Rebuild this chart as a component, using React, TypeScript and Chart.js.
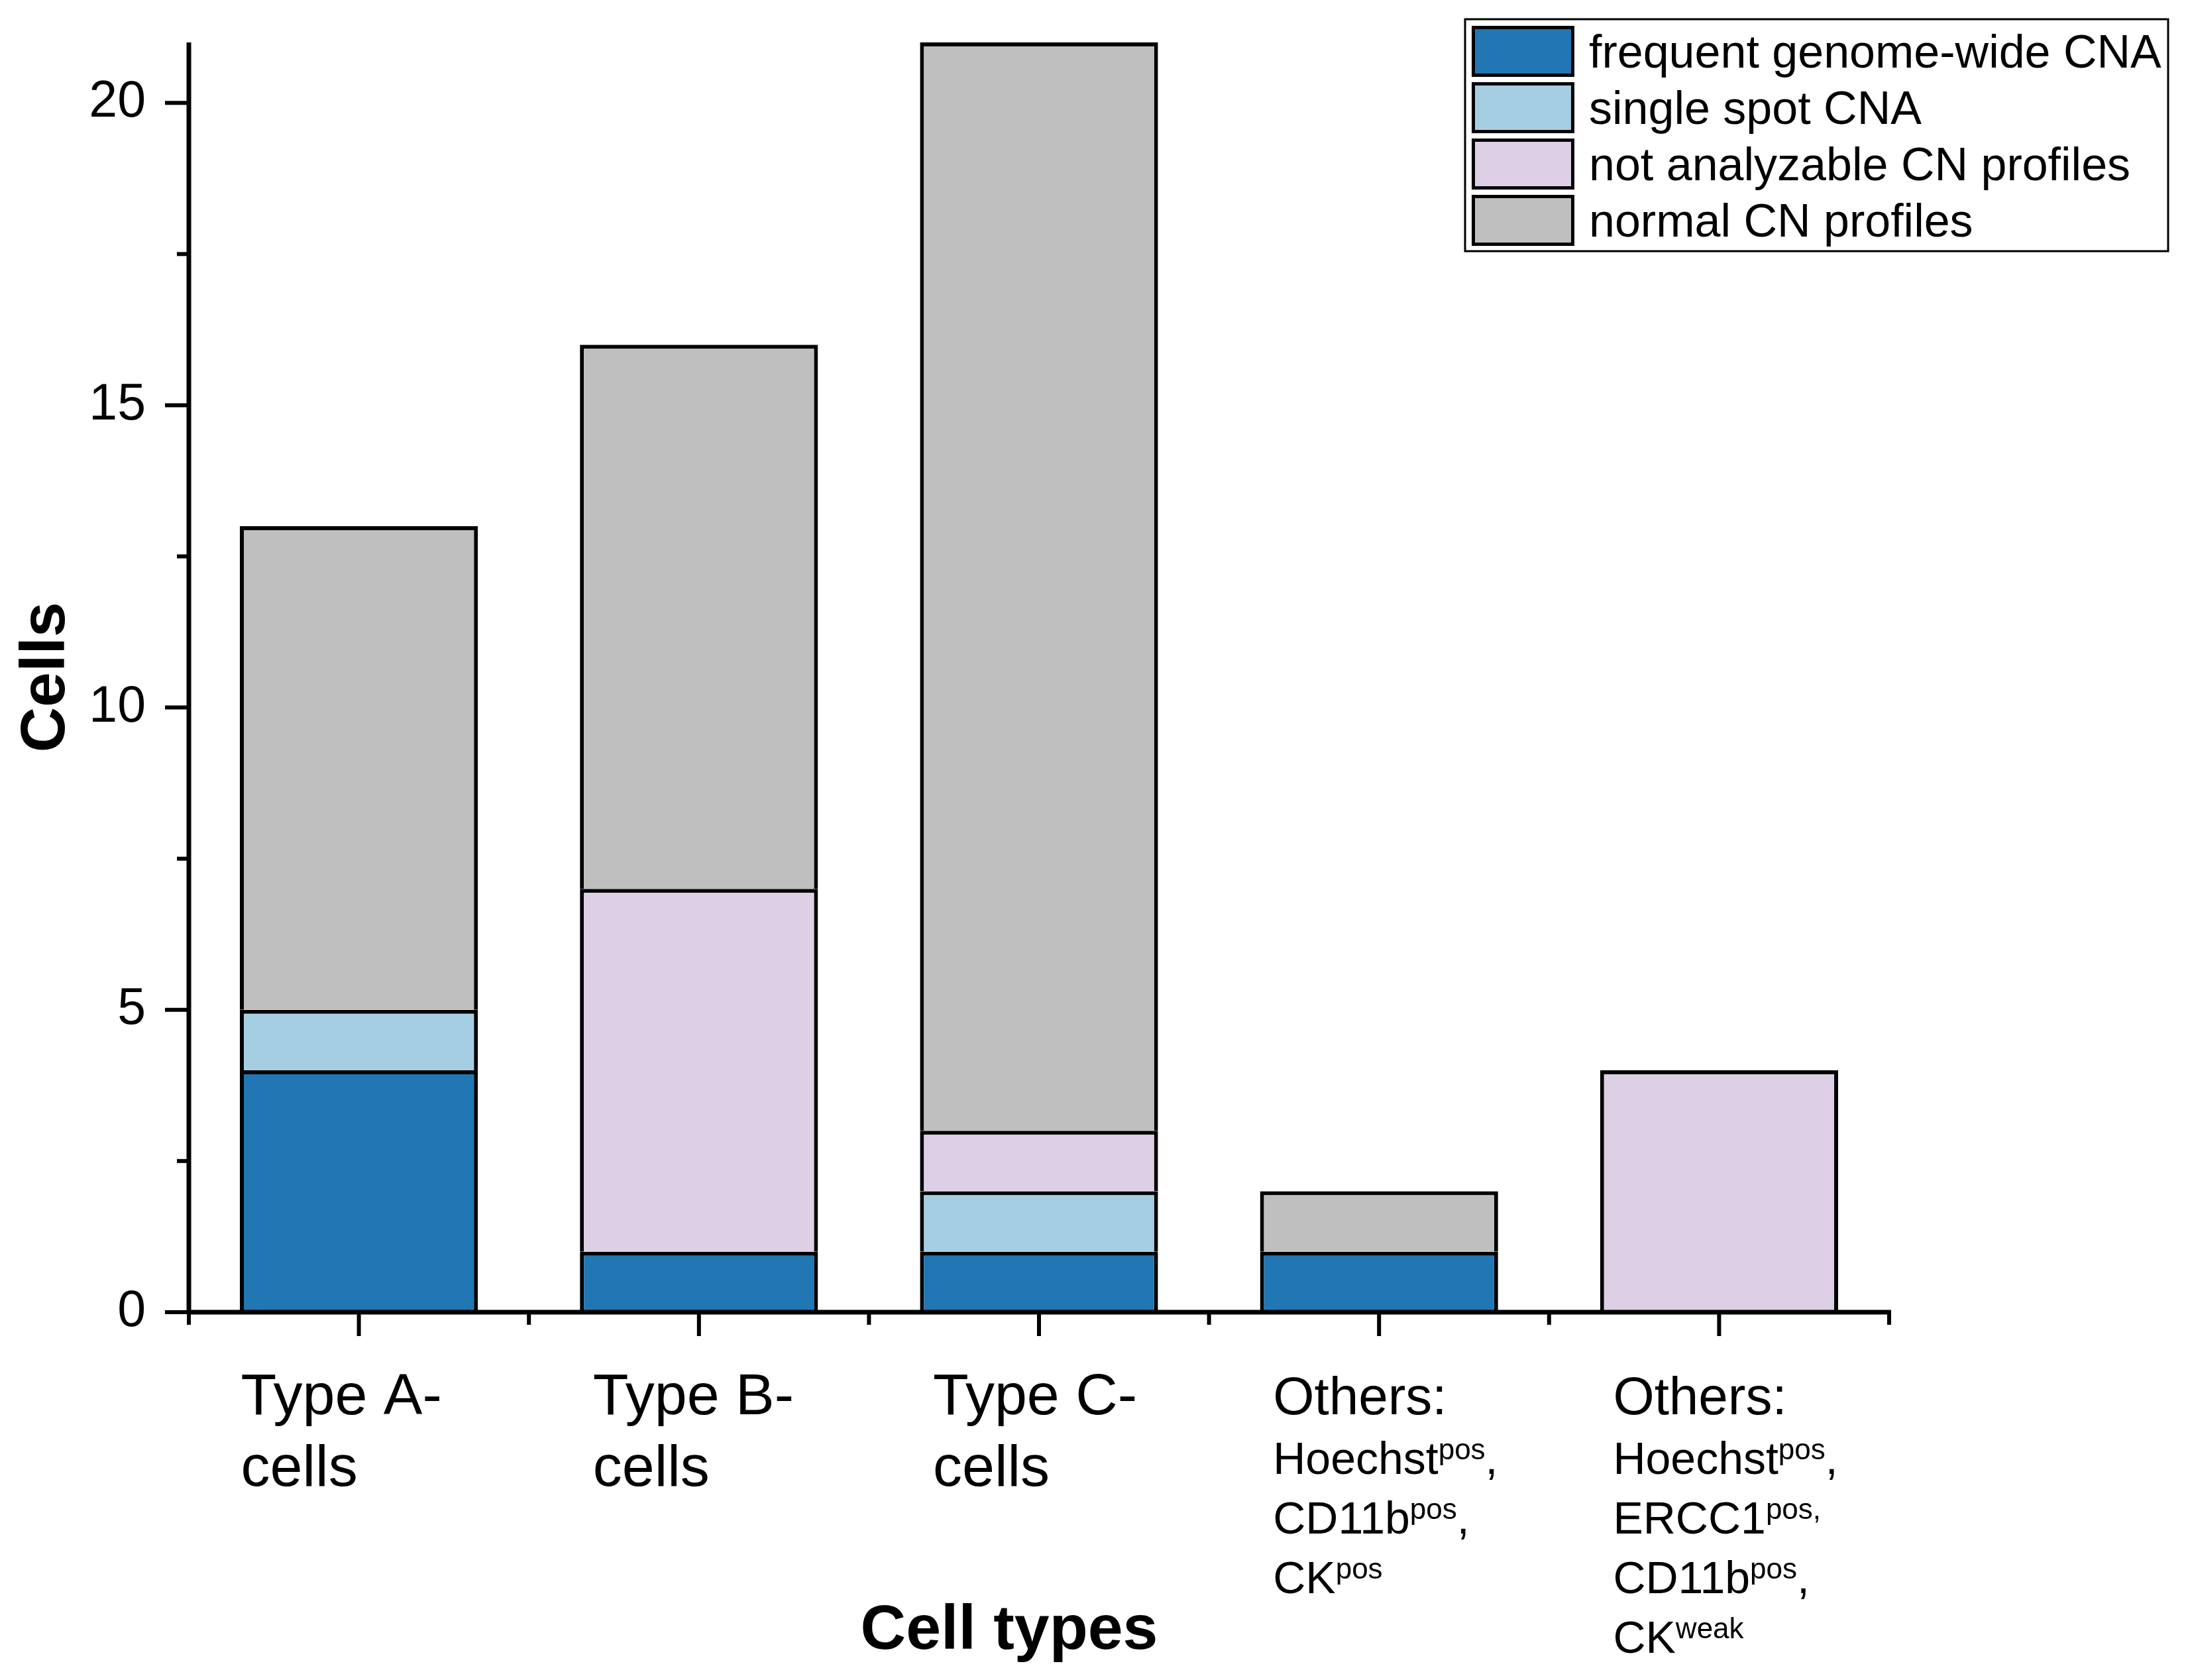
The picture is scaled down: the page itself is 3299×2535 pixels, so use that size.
import { useEffect, useRef } from "react";
import { Chart, registerables } from "chart.js";

Chart.register(...registerables);

// ---------- data ----------
const categoryLabels = [
  "Type A-\ncells",
  "Type B-\ncells",
  "Type C-\ncells",
  "Others:\nHoechst^{pos},\nCD11b^{pos},\nCK^{pos}",
  "Others:\nHoechst^{pos},\nERCC1^{pos,}\nCD11b^{pos},\nCK^{weak}",
];
const seriesNames = [
  "frequent genome-wide CNA",
  "single spot CNA",
  "not analyzable CN profiles",
  "normal CN profiles",
];
const frequentCNA = [4, 1, 1, 1, 0];
const singleSpotCNA = [1, 0, 1, 0, 0];
const notAnalyzable = [0, 6, 1, 0, 4];
const normalProfiles = [8, 9, 18, 1, 0];
const yMajorTicks = [0, 5, 10, 15, 20];
const yMinorTicks = [2.5, 7.5, 12.5, 17.5];
const yMax = 21;
const xTitle = "Cell types";
const yTitle = "Cells";

const seriesColors = ["#2077b4", "#a6cee3", "#ddd0e6", "#bfbfbf"];
const FONT = '"Liberation Sans", Arial, Helvetica, sans-serif';
const W = 3299;
const H = 2535;

type Seg = { text: string; sup: boolean };
function parseLine(line: string): Seg[] {
  const out: Seg[] = [];
  const re = /\^\{([^}]*)\}/g;
  let last = 0;
  let m: RegExpExecArray | null;
  while ((m = re.exec(line))) {
    if (m.index > last) out.push({ text: line.slice(last, m.index), sup: false });
    out.push({ text: m[1], sup: true });
    last = m.index + m[0].length;
  }
  if (last < line.length) out.push({ text: line.slice(last), sup: false });
  return out;
}

const decorPlugin = {
  id: "decor",
  afterDraw(chart: any) {
    const ctx: CanvasRenderingContext2D = chart.ctx;
    const xs = chart.scales.x;
    const ys = chart.scales.y;
    const area = chart.chartArea;
    ctx.save();
    ctx.strokeStyle = "#000";
    ctx.fillStyle = "#000";
    ctx.lineCap = "butt";

    // y ticks
    ctx.lineWidth = 6;
    yMajorTicks.forEach((v) => {
      const y = ys.getPixelForValue(v);
      ctx.beginPath();
      ctx.moveTo(area.left - 36, y);
      ctx.lineTo(area.left, y);
      ctx.stroke();
    });
    yMinorTicks.forEach((v) => {
      const y = ys.getPixelForValue(v);
      ctx.beginPath();
      ctx.moveTo(area.left - 18, y);
      ctx.lineTo(area.left, y);
      ctx.stroke();
    });
    // x ticks
    categoryLabels.forEach((_, i) => {
      const x = xs.getPixelForValue(i);
      ctx.beginPath();
      ctx.moveTo(x, area.bottom);
      ctx.lineTo(x, area.bottom + 36);
      ctx.stroke();
    });
    for (let i = 0; i <= categoryLabels.length; i++) {
      const x = xs.getPixelForValue(i - 0.5);
      ctx.beginPath();
      ctx.moveTo(x, area.bottom);
      ctx.lineTo(x, area.bottom + 19);
      ctx.stroke();
    }
    // axis lines
    ctx.lineWidth = 7;
    ctx.beginPath();
    ctx.moveTo(area.left, area.top);
    ctx.lineTo(area.left, area.bottom + 3);
    ctx.stroke();
    ctx.beginPath();
    ctx.moveTo(area.left - 3, area.bottom);
    ctx.lineTo(area.right + 3, area.bottom);
    ctx.stroke();

    // x category labels (with superscripts)
    ctx.textAlign = "left";
    ctx.textBaseline = "alphabetic";
    categoryLabels.forEach((label, i) => {
      const cx = xs.getPixelForValue(i);
      const lines = label.split("\n");
      const simple = lines.length <= 2;
      const left = cx - (i === 0 ? 178 : 160);
      let base = area.bottom + 154;
      lines.forEach((line, li) => {
        const size = simple ? 88 : li === 0 ? 80 : 68;
        const supSize = Math.round(size * 0.64);
        let x = left;
        parseLine(line).forEach((seg) => {
          if (seg.sup) {
            ctx.font = `${supSize}px ${FONT}`;
            ctx.fillText(seg.text, x, base - size * 0.32);
          } else {
            ctx.font = `${size}px ${FONT}`;
            ctx.fillText(seg.text, x, base);
          }
          x += ctx.measureText(seg.text).width;
        });
        base += simple ? 108 : 90;
      });
    });

    // axis titles
    ctx.font = `bold 95px ${FONT}`;
    ctx.textAlign = "center";
    ctx.fillText(xTitle, (area.left + area.right) / 2 - 45, area.bottom + 508);
    ctx.save();
    ctx.translate(97, (area.top + area.bottom) / 2);
    ctx.rotate(-Math.PI / 2);
    ctx.fillText(yTitle, 0, 0);
    ctx.restore();

    // legend
    const bx = 2211, by = 29, bw = 3272 - 2211, bh = 379 - 29;
    ctx.lineWidth = 3;
    ctx.strokeRect(bx, by, bw, bh);
    ctx.font = `70px ${FONT}`;
    ctx.textAlign = "left";
    chart.data.datasets.forEach((ds: any, i: number) => {
      const top = by + 10 + 85 * i;
      ctx.fillStyle = ds.backgroundColor;
      ctx.fillRect(bx + 10, top, 155, 77);
      ctx.lineWidth = 5;
      ctx.strokeRect(bx + 12.5, top + 2.5, 150, 72);
      ctx.fillStyle = "#000";
      ctx.fillText(ds.label, bx + 187, top + 63);
    });
    ctx.restore();
  },
};

export default function App() {
  const ref = useRef<HTMLCanvasElement | null>(null);
  useEffect(() => {
    document.body.style.margin = "0";
    document.body.style.overflow = "hidden";
    const seriesValues = [frequentCNA, singleSpotCNA, notAnalyzable, normalProfiles];
    const chart = new Chart(ref.current as HTMLCanvasElement, {
      type: "bar",
      data: {
        labels: categoryLabels,
        datasets: seriesNames.map((name, i) => ({
          label: name,
          data: seriesValues[i],
          backgroundColor: seriesColors[i],
          borderColor: "#000",
          borderWidth: 6,
          borderSkipped: "start",
          barPercentage: 0.7,
          categoryPercentage: 1.0,
        })),
      },
      options: {
        animation: false,
        responsive: false,
        devicePixelRatio: 1,
        layout: { padding: { top: 64, right: W - 2851, left: 0, bottom: 0 } },
        plugins: { legend: { display: false }, tooltip: { enabled: false } },
        scales: {
          x: {
            stacked: true,
            grid: { display: false, drawTicks: false },
            border: { display: false },
            ticks: { display: false },
            afterFit: (s: any) => {
              s.height = H - 1980;
              s.paddingLeft = 0;
              s.paddingRight = 0;
              s.paddingTop = 0;
              s.paddingBottom = 0;
            },
          },
          y: {
            stacked: true,
            min: 0,
            max: yMax,
            grid: { display: false, drawTicks: false },
            border: { display: false },
            ticks: {
              stepSize: 5,
              includeBounds: false,
              padding: 65,
              color: "#000",
              font: { family: FONT, size: 77 },
            },
            afterFit: (s: any) => {
              s.width = 285;
              s.paddingTop = 0;
              s.paddingBottom = 0;
              s.paddingLeft = 0;
              s.paddingRight = 0;
            },
          },
        },
      },
      plugins: [decorPlugin],
    });
    return () => chart.destroy();
  }, []);
  return <canvas ref={ref} width={W} height={H} style={{ display: "block" }} />;
}
